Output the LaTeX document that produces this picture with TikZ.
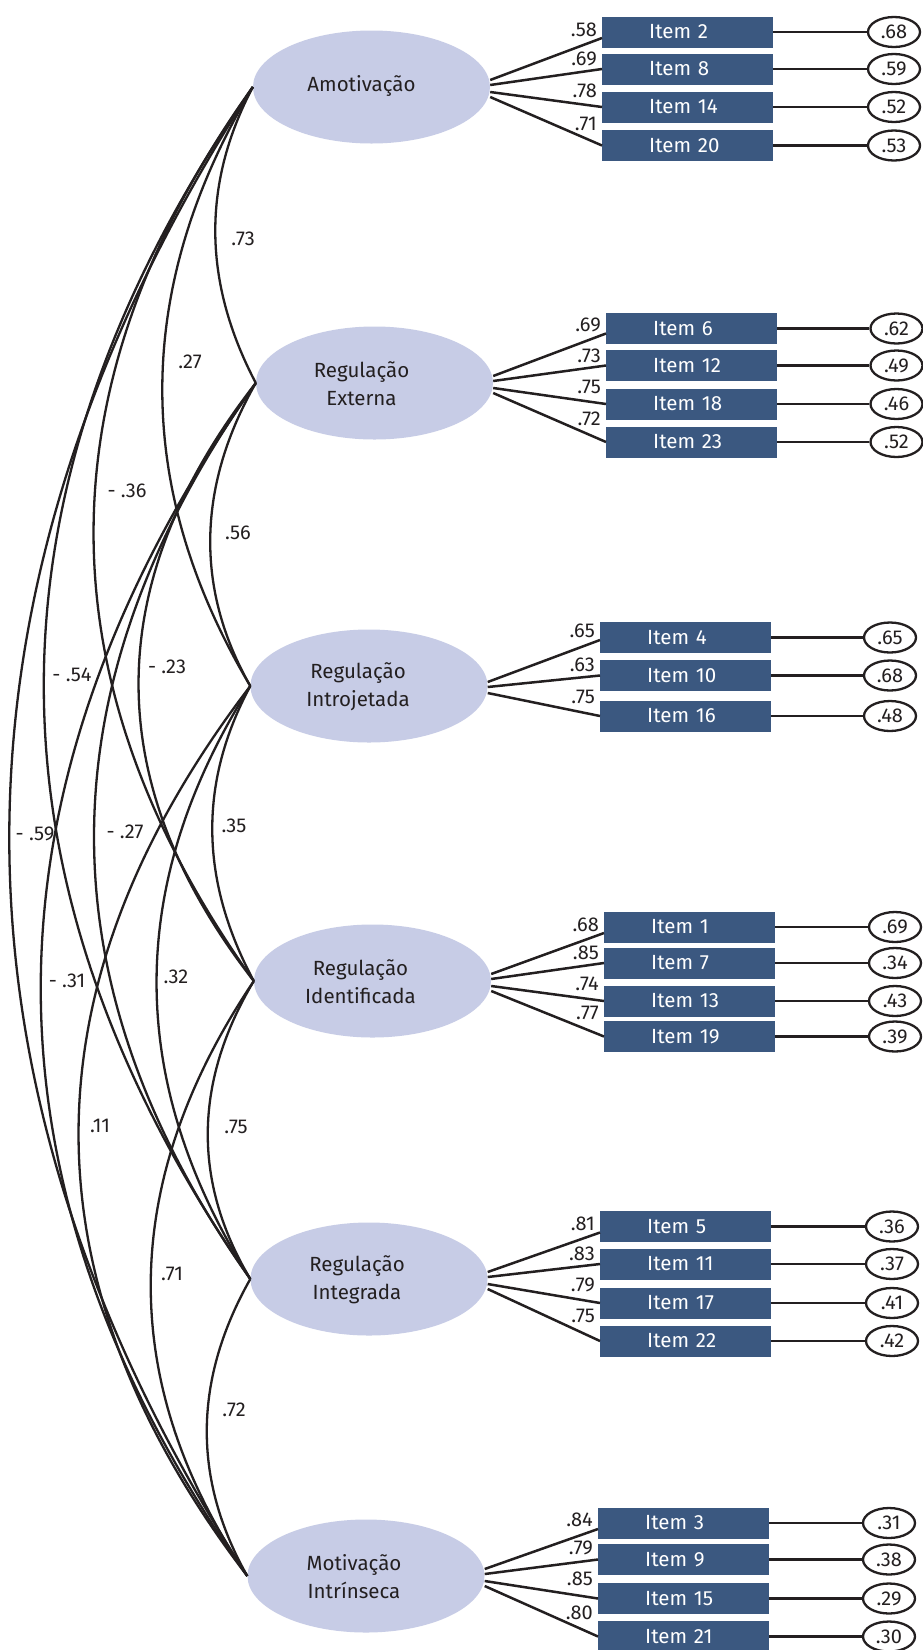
\documentclass[tikz,border=0pt]{standalone}
\usepackage{fontspec}
\setmainfont{Fira Sans}
\usetikzlibrary{calc,shapes.geometric}
\definecolor{latfill}{RGB}{199,204,230}
\definecolor{itemblue}{RGB}{59,88,128}
\definecolor{ink}{RGB}{35,31,32}
% #1 id, #2 box left x, #3 y, #4 item text, #5 loading, #6 label dy, #7 error x, #8 error text
\newcommand{\itemrow}[8]{%
  \node[itembox] (i#1) at (#2,#3) {\hspace*{47pt}#4};
  \node[num, anchor=south east] (l#1) at ($(i#1.west)+(-4,#6)$) {#5};
  \node[errnode] (e#1) at (#7,#3) {#8};
  \draw[pathline] (i#1.east) -- (e#1.west);
}
\newcommand{\corrcurve}[4]{%
  \draw[corrline] (#1.west) .. controls +(-#3,#4) and +(-#3,-#4) .. (#2.west);
}
\begin{document}
\begin{tikzpicture}[x=1pt,y=-1pt,
  latent/.style={ellipse, fill=latfill, minimum width=237pt, minimum height=113pt, inner sep=0pt},
  lattext/.style={font=\fontsize{20.5}{28}\selectfont, text=ink, align=center, inner sep=0pt},
  itembox/.style={fill=itemblue, text=white, anchor=west, text width=171pt, align=left,
    minimum height=31pt, inner sep=0pt, font=\fontsize{20.5}{20.5}\selectfont},
  errnode/.style={ellipse, draw=ink, line width=2.3pt, fill=white, minimum width=52pt,
    minimum height=30pt, inner sep=0pt, font=\fontsize{20}{20}\selectfont, text=ink},
  num/.style={font=\fontsize{20}{20}\selectfont, text=ink, inner sep=1pt},
  pathline/.style={draw=ink, line width=2.5pt},
  corrline/.style={draw=ink, line width=2.3pt}
]
\useasboundingbox (0,0) rectangle (923,1650);
\fill[white] (0,0) rectangle (923,1650);

% latent variables
\node[latent] (A)  at (371.5,87)  {};
\node[latent] (E)  at (374.5,383) {};
\node[latent] (N)  at (369,686)   {};
\node[latent] (D)  at (372.5,981) {};
\node[latent] (G)  at (369,1279)  {};
\node[latent] (M)  at (366,1576)  {};
\node[lattext] (At) at ($(A.center)+(-10,-1)$) {Amotivação};
\node[lattext] (Et) at ($(E.center)+(-13,1)$) {Regulação\\Externa};
\node[lattext] (Nt) at ($(N.center)+(-11,1)$) {Regulação\\Introjetada};
\node[lattext] (Dt) at ($(D.center)+(-12,1)$) {Regulação\\Identificada};
\node[lattext] (Gt) at ($(G.center)+(-12,1)$) {Regulação\\Integrada};
\node[lattext] (Mt) at ($(M.center)+(-12,1)$) {Motivação\\Intrínseca};

% items: Amotivacao
\itemrow{2}{602}{32}{Item 2}{.58}{5.5}{894}{.68}
\itemrow{8}{602}{69}{Item 8}{.69}{-2}{894}{.59}
\itemrow{14}{602}{107}{Item 14}{.78}{-8}{894}{.52}
\itemrow{20}{602}{145.5}{Item 20}{.71}{-14}{894}{.53}
% Externa
\itemrow{6}{606}{328.5}{Item 6}{.69}{5}{896.5}{.62}
\itemrow{12}{606}{365.5}{Item 12}{.73}{-2}{896.5}{.49}
\itemrow{18}{606}{404}{Item 18}{.75}{-9}{896.5}{.46}
\itemrow{23}{606}{442}{Item 23}{.72}{-15}{896.5}{.52}
% Introjetada
\itemrow{4}{600}{637.5}{Item 4}{.65}{1}{890}{.65}
\itemrow{10}{600}{675.5}{Item 10}{.63}{-3}{890}{.68}
\itemrow{16}{600}{716}{Item 16}{.75}{-11}{890}{.48}
% Identificada
\itemrow{1}{604}{927}{Item 1}{.68}{5.5}{895}{.69}
\itemrow{7}{604}{963}{Item 7}{.85}{-2}{895}{.34}
\itemrow{13}{604}{1001}{Item 13}{.74}{-9}{895}{.43}
\itemrow{19}{604}{1036.5}{Item 19}{.77}{-16}{895}{.39}
% Integrada
\itemrow{5}{600}{1226.5}{Item 5}{.81}{5.5}{892}{.36}
\itemrow{11}{600}{1264}{Item 11}{.83}{-2}{892}{.37}
\itemrow{17}{600}{1303}{Item 17}{.79}{-10}{892}{.41}
\itemrow{22}{600}{1341}{Item 22}{.75}{-17}{892}{.42}
% Intrinseca
\itemrow{3}{598}{1523}{Item 3}{.84}{5}{889}{.31}
\itemrow{9}{598}{1559.5}{Item 9}{.79}{-3}{889}{.38}
\itemrow{15}{598}{1598.5}{Item 15}{.85}{-12}{889}{.29}
\itemrow{21}{598}{1636.5}{Item 21}{.80}{-16}{889}{.30}

% loadings
\draw[pathline] ($(A.east)+(0,-7)$) -- ($(i2.west)+(0,6)$);
\draw[pathline] ($(A.east)+(0,-2)$) -- (i8.west);
\draw[pathline] ($(A.east)+(0,5)$) -- (i14.west);
\draw[pathline] ($(A.east)+(0,10)$) -- (i20.west);
\draw[pathline] ($(E.east)+(0,-7)$) -- ($(i6.west)+(0,5)$);
\draw[pathline] ($(E.east)+(0,-2)$) -- (i12.west);
\draw[pathline] ($(E.east)+(0,5)$) -- (i18.west);
\draw[pathline] ($(E.east)+(0,10)$) -- (i23.west);
\draw[pathline] ($(N.east)+(0,-4)$) -- ($(i4.west)+(0,2.5)$);
\draw[pathline] ($(N.east)+(0,1)$) -- (i10.west);
\draw[pathline] ($(N.east)+(0,7)$) -- (i16.west);
\draw[pathline] ($(D.east)+(0,-7)$) -- ($(i1.west)+(0,6)$);
\draw[pathline] ($(D.east)+(0,-2)$) -- (i7.west);
\draw[pathline] ($(D.east)+(0,5)$) -- (i13.west);
\draw[pathline] ($(D.east)+(0,10)$) -- (i19.west);
\draw[pathline] ($(G.east)+(0,-7)$) -- ($(i5.west)+(0,6)$);
\draw[pathline] ($(G.east)+(0,-2)$) -- (i11.west);
\draw[pathline] ($(G.east)+(0,5)$) -- (i17.west);
\draw[pathline] ($(G.east)+(0,10)$) -- (i22.west);
\draw[pathline] ($(M.east)+(0,-7)$) -- ($(i3.west)+(0,6)$);
\draw[pathline] ($(M.east)+(0,-2)$) -- (i9.west);
\draw[pathline] ($(M.east)+(0,5)$) -- (i15.west);
\draw[pathline] ($(M.east)+(0,10)$) -- (i21.west);

% correlations
\corrcurve{A}{E}{52}{99}
\corrcurve{A}{N}{119}{200}
\corrcurve{A}{D}{213}{298}
\corrcurve{A}{G}{277}{398}
\corrcurve{A}{M}{321}{497}
\corrcurve{E}{N}{57}{100}
\corrcurve{E}{D}{155}{199}
\corrcurve{E}{G}{212}{299}
\corrcurve{E}{M}{281}{398}
\corrcurve{N}{D}{53}{99}
\corrcurve{N}{G}{125}{198}
\corrcurve{N}{M}{227}{297}
\corrcurve{D}{G}{59}{99}
\corrcurve{D}{M}{133}{198}
\corrcurve{G}{M}{56}{99}

% correlation labels
\node[num] (cAE) at (243,239) {.73};
\node[num] (cAN) at (190,362) {.27};
\node[num] (cAD) at (127,491) {- .36};
\node[num] (cAG) at (72,675) {- .54};
\node[num] (cAM) at (35,834) {- .59};
\node[num] (cEN) at (238,533) {.56};
\node[num] (cED) at (167,667) {- .23};
\node[num] (cEG) at (125,832) {- .27};
\node[num] (cEM) at (67,981) {- .31};
\node[num] (cND) at (234,826) {.35};
\node[num] (cNG) at (176,977) {.32};
\node[num] (cNM) at (100,1126) {.11};
\node[num] (cDG) at (236,1127) {.75};
\node[num] (cDM) at (172,1274) {.71};
\node[num] (cGM) at (234,1410) {.72};
\end{tikzpicture}
\end{document}
